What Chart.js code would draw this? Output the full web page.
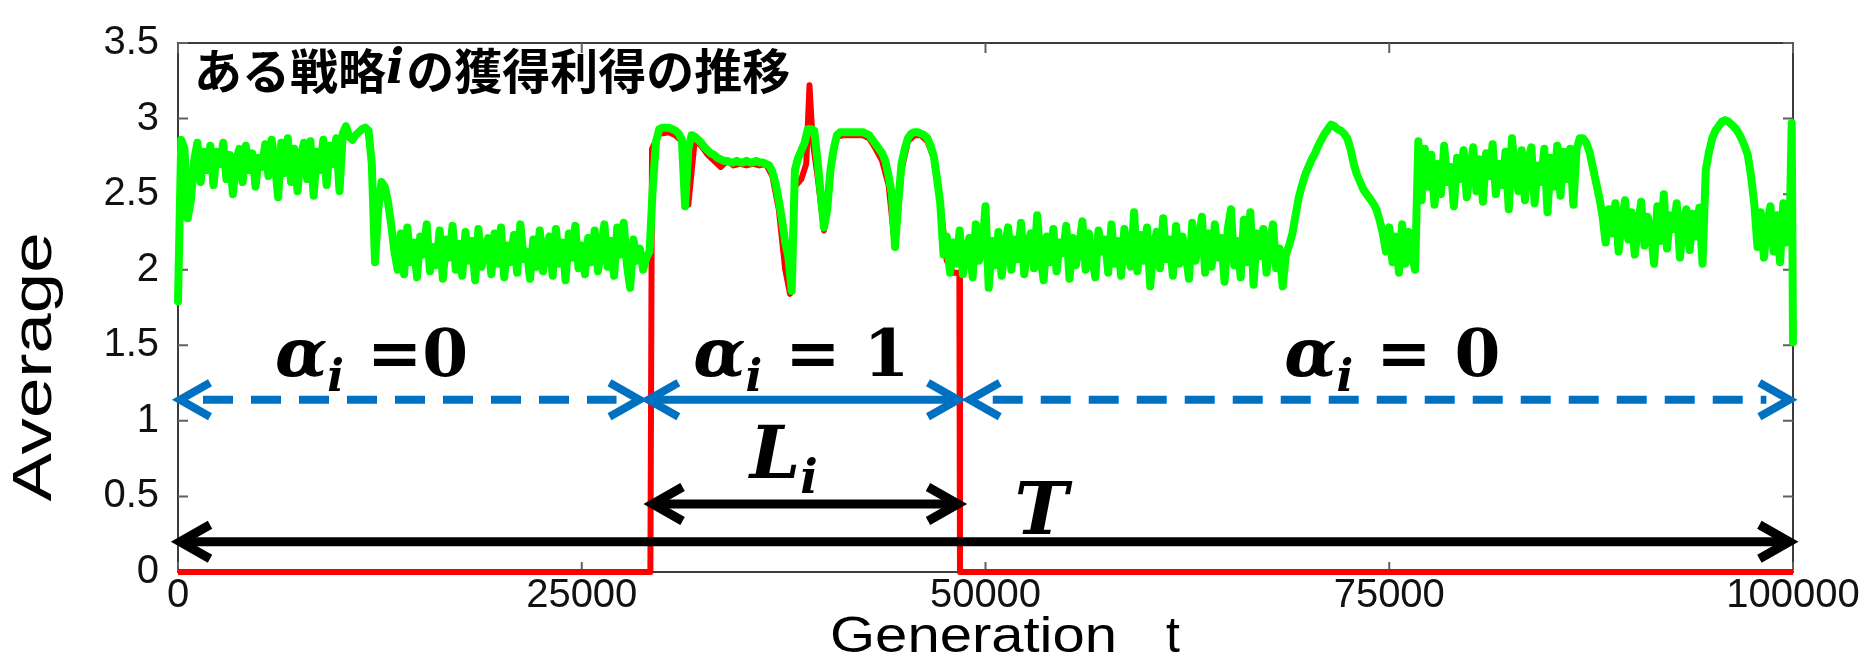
<!DOCTYPE html>
<html>
<head>
<meta charset="utf-8">
<script src="https://cdn.jsdelivr.net/npm/chart.js@4.4.1/dist/chart.umd.min.js"></script>
<style>
  html, body { margin: 0; padding: 0; background: #fff; }
  #wrap { width: 1874px; height: 659px; position: relative; }
</style>
</head>
<body>
<div id="wrap"><canvas id="c" width="1874" height="659"></canvas></div>
<script>
// Average payoff of strategy i, sampled every GEN_STEP generations (0 .. 99800)
const GEN_STEP = 200;
const greenAvg = [
  1.79, 2.86, 2.80, 2.34, 2.46, 2.72, 2.84, 2.58, 2.78, 2.66,
  2.82, 2.56, 2.78, 2.70, 2.84, 2.60, 2.76, 2.50, 2.72, 2.80,
  2.58, 2.82, 2.66, 2.77, 2.55, 2.74, 2.68, 2.83, 2.62, 2.86,
  2.70, 2.48, 2.84, 2.64, 2.87, 2.58, 2.80, 2.52, 2.75, 2.84,
  2.60, 2.85, 2.49, 2.78, 2.66, 2.86, 2.56, 2.82, 2.70, 2.87,
  2.52, 2.90, 2.95, 2.88, 2.86, 2.89, 2.91, 2.93, 2.94, 2.92,
  2.70, 2.05, 2.40, 2.58, 2.55, 2.45, 2.30, 2.12, 2.00, 2.24,
  1.97, 2.28, 2.05, 2.18, 1.95, 2.22, 2.10, 2.30, 1.99, 2.15,
  2.03, 2.26, 1.94, 2.20, 2.08, 2.29, 2.00, 2.17, 1.96, 2.25,
  2.06, 2.19, 1.93, 2.27, 2.02, 2.14, 2.21, 1.97, 2.24, 2.04,
  2.28, 1.95, 2.16, 2.05, 2.23, 1.98, 2.30, 2.07, 2.12, 1.94,
  2.20, 2.02, 2.26, 1.99, 2.15, 2.22, 1.96, 2.27, 2.04, 2.18,
  1.93, 2.24, 2.08, 2.29, 2.01, 2.16, 1.97, 2.21, 2.05, 2.26,
  1.99, 2.13, 2.30, 2.02, 2.19, 1.96, 2.28, 2.10, 2.31, 2.03,
  1.88, 2.20, 2.06, 2.14, 2.00, 2.08, 2.12, 2.55, 2.85, 2.93,
  2.94, 2.94, 2.94, 2.93, 2.92, 2.90, 2.86, 2.42, 2.80, 2.89,
  2.88, 2.86, 2.84, 2.81, 2.79, 2.77, 2.76, 2.74, 2.73, 2.72,
  2.72, 2.71, 2.71, 2.72, 2.71, 2.71, 2.72, 2.71, 2.71, 2.72,
  2.71, 2.71, 2.70, 2.69, 2.65, 2.57, 2.46, 2.33, 2.18, 2.08,
  1.86, 2.66, 2.74, 2.79, 2.84, 2.93, 2.93, 2.92, 2.72, 2.50,
  2.28, 2.40, 2.66, 2.80, 2.89, 2.91, 2.91, 2.91, 2.91, 2.91,
  2.91, 2.91, 2.91, 2.90, 2.89, 2.86, 2.83, 2.80, 2.77, 2.72,
  2.62, 2.50, 2.15, 2.45, 2.70, 2.80, 2.87, 2.90, 2.91, 2.91,
  2.90, 2.89, 2.87, 2.82, 2.75, 2.60, 2.44, 2.10, 2.22, 1.98,
  2.18, 2.04, 2.26, 1.97, 2.12, 2.21, 1.95, 2.30, 2.06, 2.15,
  2.42, 1.88, 2.19, 2.03, 2.25, 1.96, 2.14, 2.28, 2.00, 2.20,
  2.07, 2.31, 1.97, 2.17, 2.24, 2.01, 2.36, 2.09, 1.93, 2.22,
  2.05, 2.27, 1.99, 2.18, 2.11, 2.29, 1.94, 2.21, 2.03, 2.16,
  2.32, 2.00, 2.24, 2.08, 1.95, 2.26, 2.12, 2.20, 1.98, 2.30,
  2.04, 2.19, 1.96, 2.27, 2.10, 2.02, 2.38, 1.99, 2.23, 2.06,
  2.28, 1.89, 2.15, 2.25, 2.01, 2.34, 2.07, 2.20, 1.96, 2.29,
  2.04, 2.22, 2.11, 1.94, 2.31, 2.06, 2.18, 2.35, 1.98, 2.24,
  2.02, 2.30, 2.08, 2.21, 1.92, 2.27, 2.40, 2.03, 2.19, 1.95,
  2.33, 2.05, 2.38, 1.90, 2.24, 2.09, 2.27, 1.98, 2.17, 2.30,
  2.01, 2.14, 1.89, 2.10, 2.16, 2.24, 2.36, 2.48, 2.56, 2.63,
  2.68, 2.73, 2.77, 2.82, 2.86, 2.90, 2.93, 2.96, 2.95, 2.93,
  2.92, 2.90, 2.87, 2.80, 2.70, 2.63, 2.58, 2.53, 2.50, 2.47,
  2.44, 2.40, 2.33, 2.24, 2.12, 2.28, 2.05, 2.22, 1.98, 2.30,
  2.04, 2.25, 2.10, 2.00, 2.85, 2.46, 2.80, 2.55, 2.76, 2.43,
  2.70, 2.50, 2.82, 2.58, 2.68, 2.42, 2.74, 2.60, 2.79, 2.48,
  2.66, 2.81, 2.52, 2.73, 2.45, 2.77, 2.62, 2.83, 2.50, 2.70,
  2.56, 2.78, 2.40, 2.87, 2.64, 2.52, 2.79, 2.46, 2.72, 2.81,
  2.44, 2.69, 2.58, 2.80, 2.38, 2.74, 2.55, 2.82, 2.49, 2.78,
  2.60, 2.80, 2.43, 2.80, 2.87, 2.87, 2.84, 2.78, 2.68, 2.58,
  2.48, 2.36, 2.18, 2.40, 2.24, 2.44, 2.12, 2.33, 2.46, 2.20,
  2.38, 2.10, 2.30, 2.45, 2.16, 2.35, 2.25, 2.04, 2.42, 2.19,
  2.50, 2.14, 2.36, 2.27, 2.44, 2.08, 2.32, 2.40, 2.13, 2.37,
  2.22, 2.41, 2.04, 2.66, 2.78, 2.87, 2.92, 2.95, 2.98, 2.99,
  2.98, 2.96, 2.94, 2.91, 2.87, 2.82, 2.76, 2.62, 2.44, 2.15,
  2.38, 2.08, 2.30, 2.42, 2.12, 2.36, 2.05, 2.44, 2.18, 2.32
];
// last samples at the end of the run
const greenEndGen = [99920, 100000];
const greenEndAvg = [2.97, 1.52];

// payoff of strategy i counted only while it is adopted (alpha_i = 1)
const redGen = [0, 29250, 29350, 29800, 30400, 30800, 31200, 31600, 32000, 32400,
  32800, 33200, 33600, 34000, 34400, 34800, 35200, 35600, 36000, 36400,
  36800, 37200, 37600, 37900, 38200, 38600, 38900, 39100, 39300, 39600,
  40000, 40400, 40800, 41200, 41600, 42000, 42400, 42800, 43200, 43600,
  44000, 44400, 44800, 45200, 45600, 46000, 46400, 46800, 47200, 47600,
  48000, 48380, 48420, 100000];
const redAvg = [0, 0, 2.80, 2.90, 2.91, 2.89, 2.85, 2.43, 2.86, 2.82,
  2.76, 2.72, 2.68, 2.72, 2.69, 2.70, 2.69, 2.70, 2.69, 2.70,
  2.62, 2.40, 2.00, 1.84, 2.55, 2.60, 2.70, 3.22, 2.85, 2.62,
  2.26, 2.68, 2.88, 2.89, 2.89, 2.89, 2.89, 2.87, 2.80, 2.72,
  2.56, 2.15, 2.66, 2.85, 2.89, 2.89, 2.85, 2.74, 2.44, 2.06,
  1.98, 1.98, 0, 0];

// axis ticks
const xTicks = [0, 25000, 50000, 75000, 100000];
const yTicks = [0, 0.5, 1, 1.5, 2, 2.5, 3, 3.5];

// period arrows: [from, to] in generations, height on the y axis
const blueFrom = [0, 29000, 48900];
const blueTo = [28700, 48420, 99900];
const blueDashed = [true, false, true];
const blueLevel = 1.14;
const blackFrom = [29260, 0];
const blackTo = [48420, 99900];
const blackLevel = [0.45, 0.2];

// alpha_i labels: left edge (generation), baseline (average), right-hand text
const alphaGen = [6000, 31900, 68500];
const alphaLevel = 1.30;
const alphaRhs = [' =0', ' = 1', ' = 0'];
const lGen = 35400, lLevel = 0.62;
const tGen = 51800, tLevel = 0.25;

const greenData = greenAvg.map((v, i) => ({ x: i * GEN_STEP, y: v }))
  .concat(greenEndGen.map((g, i) => ({ x: g, y: greenEndAvg[i] })));
const redData = redGen.map((g, i) => ({ x: g, y: redAvg[i] }));

const MATH = '"DejaVu Serif", "Liberation Serif", serif';
const SANS = '"Liberation Sans", Arial, sans-serif';
const CJK = '"Noto Sans CJK JP", "Noto Sans CJK SC", sans-serif';

function drawParts(ctx, parts, x, y) {
  let cx = x;
  for (const p of parts) {
    ctx.font = p.font;
    ctx.fillText(p.t, cx, y + (p.dy || 0));
    cx += ctx.measureText(p.t).width + (p.gap || 0);
  }
}

function drawArrow(ctx, x1, x2, y, color, width, dashed) {
  const hx = 32, hy = 17;
  ctx.save();
  ctx.strokeStyle = color;
  ctx.lineWidth = width;
  ctx.lineCap = 'butt';
  ctx.setLineDash(dashed ? [30, 18] : []);
  ctx.beginPath();
  ctx.moveTo(x1 + (dashed ? 25 : 4), y);
  ctx.lineTo(x2 - (dashed ? 25 : 4), y);
  ctx.stroke();
  ctx.setLineDash([]);
  ctx.lineJoin = 'miter';
  ctx.beginPath();
  ctx.moveTo(x1 + hx, y - hy); ctx.lineTo(x1 + 2, y); ctx.lineTo(x1 + hx, y + hy);
  ctx.moveTo(x2 - hx, y - hy); ctx.lineTo(x2 - 2, y); ctx.lineTo(x2 - hx, y + hy);
  ctx.stroke();
  ctx.restore();
}

const frame = {
  id: 'frame',
  beforeDatasetsDraw(chart) {
    const { ctx, chartArea: a, scales: { x, y } } = chart;
    ctx.save();
    ctx.strokeStyle = '#3c3c3c';
    ctx.lineWidth = 2;
    ctx.strokeRect(a.left, a.top, a.right - a.left, a.bottom - a.top);
    ctx.strokeStyle = '#606060';
    ctx.beginPath();
    x.ticks.forEach(t => {
      const px = x.getPixelForValue(t.value);
      ctx.moveTo(px, a.bottom); ctx.lineTo(px, a.bottom - 10);
      ctx.moveTo(px, a.top); ctx.lineTo(px, a.top + 10);
    });
    y.ticks.forEach(t => {
      const py = y.getPixelForValue(t.value);
      ctx.moveTo(a.left, py); ctx.lineTo(a.left + 10, py);
      ctx.moveTo(a.right, py); ctx.lineTo(a.right - 10, py);
    });
    ctx.stroke();
    ctx.restore();
  },
  afterDatasetsDraw(chart) {
    const { ctx, scales: { x, y } } = chart;
    ctx.save();
    // period arrows
    blueFrom.forEach((f, i) => drawArrow(ctx, x.getPixelForValue(f), x.getPixelForValue(blueTo[i]),
      y.getPixelForValue(blueLevel), '#0070C0', 8, blueDashed[i]));
    blackFrom.forEach((f, i) => drawArrow(ctx, x.getPixelForValue(f), x.getPixelForValue(blackTo[i]),
      y.getPixelForValue(blackLevel[i]), '#000000', 9, false));

    ctx.fillStyle = '#000';
    ctx.textBaseline = 'alphabetic';
    ctx.textAlign = 'left';
    alphaGen.forEach((g, i) => drawParts(ctx, [
      { t: 'α', font: 'bold italic 68px ' + MATH },
      { t: 'i', font: 'bold italic 44px ' + MATH, dy: 15 },
      { t: alphaRhs[i], font: 'bold 66px ' + MATH }
    ], x.getPixelForValue(g), y.getPixelForValue(alphaLevel)));
    drawParts(ctx, [
      { t: 'L', font: 'bold italic 72px ' + MATH },
      { t: 'i', font: 'bold italic 46px ' + MATH, dy: 15 }
    ], x.getPixelForValue(lGen), y.getPixelForValue(lLevel));
    drawParts(ctx, [{ t: 'T', font: 'bold italic 72px ' + MATH }],
      x.getPixelForValue(tGen), y.getPixelForValue(tLevel));

    // panel title
    ctx.textBaseline = 'middle';
    drawParts(ctx, [
      { t: 'ある戦略', font: 'bold 48px ' + CJK },
      { t: 'i', font: 'bold italic 48px ' + MATH, gap: 2 },
      { t: 'の獲得利得の推移', font: 'bold 48px ' + CJK }
    ], 194, 71);

    // axis titles
    ctx.font = '56px ' + SANS;
    ctx.textAlign = 'center';
    ctx.textBaseline = 'middle';
    const avgW = ctx.measureText('Average').width;
    ctx.save();
    ctx.translate(36, 367);
    ctx.rotate(-Math.PI / 2);
    ctx.scale(269 / avgW, 1);
    ctx.fillText('Average', 0, 0);
    ctx.restore();

    ctx.font = '50px ' + SANS;
    ctx.textAlign = 'left';
    ctx.textBaseline = 'alphabetic';
    const genW = ctx.measureText('Generation').width;
    ctx.save();
    ctx.translate(830, 652);
    ctx.scale(287 / genW, 1);
    ctx.fillText('Generation', 0, 0);
    ctx.restore();
    ctx.fillText('t', 1166, 652);
    ctx.restore();
  }
};

new Chart(document.getElementById('c'), {
  type: 'line',
  data: {
    datasets: [
      {
        label: 'all generations',
        data: greenData,
        borderColor: '#00FF00',
        borderWidth: 8,
        pointRadius: 0,
        tension: 0,
        borderJoinStyle: 'round',
        borderCapStyle: 'round',
        clip: false,
        order: 0
      },
      {
        label: 'adopted',
        data: redData,
        borderColor: '#FF0000',
        borderWidth: 6,
        pointRadius: 0,
        tension: 0,
        borderJoinStyle: 'round',
        clip: false,
        order: 1
      }
    ]
  },
  options: {
    responsive: false,
    animation: false,
    devicePixelRatio: 1,
    layout: { padding: { top: 33, right: 81, left: 0, bottom: 0 } },
    plugins: { legend: { display: false }, tooltip: { enabled: false } },
    scales: {
      x: {
        type: 'linear',
        min: 0, max: 100000,
        grid: { display: false, drawTicks: false },
        border: { display: false },
        afterBuildTicks: s => { s.ticks = xTicks.map(v => ({ value: v })); },
        afterFit: s => { s.height = 87; },
        ticks: {
          autoSkip: false, maxRotation: 0, padding: 0,
          color: '#111',
          font: { family: SANS, size: 40 },
          callback: v => String(v)
        }
      },
      y: {
        min: 0, max: 3.5,
        grid: { display: false, drawTicks: false },
        border: { display: false },
        afterBuildTicks: s => { s.ticks = yTicks.map(v => ({ value: v })); },
        afterFit: s => { s.width = 178; },
        ticks: {
          padding: 19,
          color: '#111',
          font: { family: SANS, size: 40 },
          callback: v => String(v)
        }
      }
    }
  },
  plugins: [frame]
});
</script>
</body>
</html>
